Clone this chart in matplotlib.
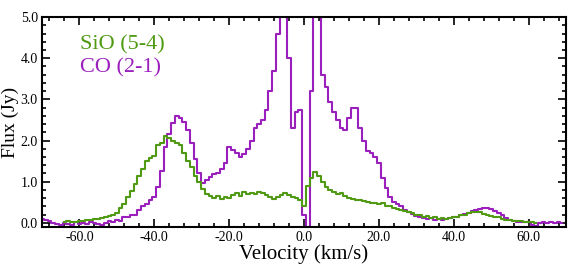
import numpy as np
import matplotlib.pyplot as plt
import matplotlib
from matplotlib.ticker import MultipleLocator, FormatStrFormatter

matplotlib.rcParams['font.family'] = ['Liberation Serif', 'DejaVu Serif']
matplotlib.rcParams['axes.unicode_minus'] = False

# CO (2-1): 1 km/s channels, centres -70 .. 69
co_vel = np.arange(-70, 70)
co_flux = [
    0.10, 0.08, 0.05, 0.00, -0.03, -0.05, 0.00, -0.03, -0.05, 0.02,    # -70..-61
    -0.03, 0.00, -0.04, 0.03, 0.00, -0.02, -0.05, 0.00, 0.05, 0.03,    # -60..-51
    0.06, 0.04, 0.15, 0.14, 0.20, 0.18, 0.32, 0.40, 0.45, 0.55,        # -50..-41
    0.62, 0.87, 1.25, 1.85, 2.15, 2.42, 2.60, 2.55, 2.45, 2.25,        # -40..-31
    1.95, 1.55, 1.20, 0.97, 1.05, 1.12, 1.18, 1.22, 1.30, 1.45,        # -30..-21
    1.85, 1.78, 1.70, 1.60, 1.68, 1.80, 2.00, 2.30, 2.40, 2.50,        # -20..-11
    2.75, 3.20, 3.70, 4.60, 6.00, 6.00, 4.00, 2.30, 2.70, 2.74,        # -10..-1
    0.20, -0.10, 3.20, 6.00, 6.00, 3.60, 3.30, 2.93, 2.70, 2.50,       # 0..9
    2.30, 2.25, 2.55, 2.80, 2.80, 2.30, 2.00, 1.75, 1.70, 1.60,        # 10..19
    1.45, 1.10, 0.85, 0.62, 0.50, 0.45, 0.40, 0.30, 0.27, 0.22,        # 20..29
    0.17, 0.15, 0.12, 0.10, 0.12, 0.08, 0.10, 0.07, 0.10, 0.12,        # 30..39
    0.13, 0.15, 0.18, 0.22, 0.25, 0.28, 0.30, 0.33, 0.37, 0.37,        # 40..49
    0.33, 0.28, 0.25, 0.18, 0.12, 0.07, 0.04, 0.03, 0.02, 0.03,        # 50..59
    0.02, -0.05, -0.08, 0.00, 0.02, 0.00, 0.01, 0.00, 0.02, 0.00,      # 60..69
]

# SiO (5-4): 1 km/s channels, centres -64 .. 62
sio_vel = np.arange(-64, 63)
sio_flux = [
    0.03, 0.04, 0.02, 0.03,                                            # -64..-61
    0.05, 0.04, 0.06, 0.08, 0.10, 0.09, 0.12, 0.13, 0.17, 0.20,        # -60..-51
    0.25, 0.35, 0.45, 0.62, 0.78, 0.95, 1.15, 1.30, 1.50, 1.58,        # -50..-41
    1.62, 1.88, 1.95, 2.12, 2.05, 1.98, 1.95, 1.90, 1.70, 1.50,        # -40..-31
    1.35, 1.15, 1.00, 0.82, 0.70, 0.65, 0.60, 0.65, 0.58, 0.62,        # -30..-21
    0.60, 0.68, 0.72, 0.65, 0.75, 0.70, 0.72, 0.70, 0.75, 0.72,        # -20..-11
    0.68, 0.62, 0.58, 0.62, 0.68, 0.72, 0.68, 0.62, 0.60, 0.55,        # -10..-1
    0.40, 0.90, 1.10, 1.23, 1.15, 1.00, 0.88, 0.80, 0.75, 0.70,        # 0..9
    0.72, 0.65, 0.60, 0.58, 0.55, 0.55, 0.52, 0.50, 0.47, 0.48,        # 10..19
    0.45, 0.47, 0.40, 0.42, 0.35, 0.33, 0.30, 0.28, 0.27, 0.25,        # 20..29
    0.20, 0.18, 0.15, 0.17, 0.12, 0.13, 0.10, 0.12, 0.10, 0.12,        # 30..39
    0.13, 0.15, 0.18, 0.20, 0.23, 0.26, 0.27, 0.26, 0.22, 0.20,        # 40..49
    0.17, 0.15, 0.13, 0.10, 0.08, 0.06, 0.05, 0.05, 0.04, 0.03,        # 50..59
    0.02, 0.01, 0.00,                                                  # 60..62
]

green = '#4f9a12'
purple = '#9a1fbd'

fig = plt.figure(figsize=(5.81, 2.67), dpi=100)
ax = fig.add_axes([0.0723, 0.150, 0.902, 0.786])

l_co, = ax.step(co_vel, co_flux, where='mid', color=purple, lw=1.5, label='CO (2-1)')
l_sio, = ax.step(sio_vel, sio_flux, where='mid', color=green, lw=1.5, label='SiO (5-4)')

ax.set_xlim(-70, 70)
ax.set_ylim(-0.1, 5.0)
ax.xaxis.set_major_locator(MultipleLocator(20))
ax.xaxis.set_minor_locator(MultipleLocator(4))
ax.yaxis.set_major_locator(MultipleLocator(1))
ax.yaxis.set_minor_locator(MultipleLocator(0.2))
ax.xaxis.set_major_formatter(FormatStrFormatter('%.1f'))
ax.yaxis.set_major_formatter(FormatStrFormatter('%.1f'))
ax.tick_params(which='both', direction='in', top=True, right=True, labelsize=10, width=1.2)
ax.tick_params(which='major', length=6, pad=3)
ax.tick_params(which='minor', length=3)
for s in ax.spines.values():
    s.set_linewidth(1.5)

ax.set_xlabel('Velocity (km/s)', fontsize=15, labelpad=0)
ax.set_ylabel('Flux (Jy)', fontsize=14, labelpad=1)

leg = ax.legend(handles=[l_sio, l_co], loc='upper left', bbox_to_anchor=(0.055, 0.96),
                frameon=False, handlelength=0, handletextpad=0, fontsize=16,
                labelcolor='linecolor', labelspacing=0.1, borderaxespad=0)
for h in leg.legend_handles:
    h.set_visible(False)

fig.savefig('out.png', dpi=100)
